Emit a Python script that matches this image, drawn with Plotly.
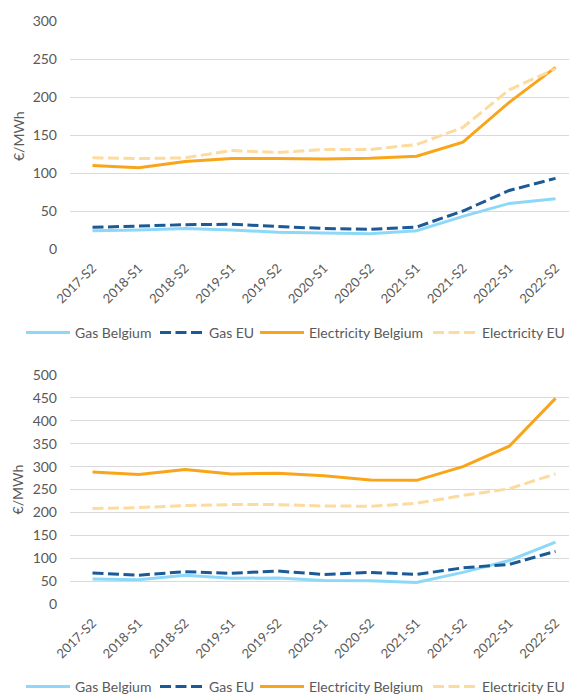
import plotly.graph_objects as go
from plotly.subplots import make_subplots

categories = ["2017-S2", "2018-S1", "2018-S2", "2019-S1", "2019-S2", "2020-S1",
              "2020-S2", "2021-S1", "2021-S2", "2022-S1", "2022-S2"]

# Top chart
top_gas_be = [24, 25, 27, 25, 22, 21, 20, 24, 43, 60, 66]
top_gas_eu = [28.5, 30, 32, 32.5, 30, 27, 26, 29, 50, 77, 93]
top_el_be = [110, 107, 115, 119, 119, 118.5, 119.5, 122, 140.5, 193, 239]
top_el_eu = [120, 119, 120, 129.5, 127, 131, 131, 137.5, 160, 209.5, 237]

# Bottom chart
bot_gas_be = [54.5, 53, 62.5, 56, 57, 51.5, 51, 47, 69, 95, 135]
bot_gas_eu = [67.5, 63, 70.5, 67, 72, 64.5, 69, 64.5, 79, 86.5, 115]
bot_el_be = [288, 283, 293.5, 284, 285.5, 280, 271, 270, 300, 344.5, 449]
bot_el_eu = [208.5, 210.5, 215, 217, 217, 214, 213.5, 220, 237, 251.5, 284]

series_names = ["Gas Belgium", "Gas EU", "Electricity Belgium", "Electricity EU"]
colors = ["#8DD8F8", "#1B5A96", "#F9A51A", "#FDDA9D"]
dashes = ["solid", "11px,4.5px", "solid", "11px,4.5px"]

FONT = "Lato"
GREY = "#595959"

fig = make_subplots(rows=2, cols=1, vertical_spacing=0.2)

top = [top_gas_be, top_gas_eu, top_el_be, top_el_eu]
bot = [bot_gas_be, bot_gas_eu, bot_el_be, bot_el_eu]

for i, name in enumerate(series_names):
    fig.add_trace(go.Scatter(x=categories, y=top[i], name=name, mode="lines",
                             line=dict(color=colors[i], width=3, dash=dashes[i]),
                             legend=f"legend{i+2}"), row=1, col=1)
for i, name in enumerate(series_names):
    fig.add_trace(go.Scatter(x=categories, y=bot[i], name=name, mode="lines",
                             line=dict(color=colors[i], width=3, dash=dashes[i]),
                             legend=f"legend{i+6}"), row=2, col=1)

xax = dict(type="category", range=[-0.486, 10.464], tickangle=-45, showgrid=False,
           showline=False, zeroline=False, ticks="", automargin=False,
           ticklabelstandoff=8,
           tickfont=dict(family=FONT, size=13, color=GREY))
yax = dict(showgrid=True, gridcolor="#D9D9D9", gridwidth=1, zeroline=False,
           showline=False, ticks="", automargin=False, ticklabelstandoff=12,
           tickfont=dict(family=FONT, size=14, color=GREY))

# legend left edges (figure pixels) -> container fractions
W, H = 569, 689
legend_px = [13, 147, 247, 420]
legends = {}
for k in range(8):
    key = f"legend{k+2}"
    legends[key] = dict(orientation="h", xref="container", yref="container",
                        x=legend_px[k % 4] / W, xanchor="left",
                        y=1 - (325 if k < 4 else 679) / H, yanchor="middle",
                        font=dict(family=FONT, size=14, color=GREY), itemwidth=44,
                        bgcolor="rgba(0,0,0,0)")

fig.update_layout(
    width=W, height=H,
    margin=dict(l=62, r=0, t=13, b=93, autoexpand=False),
    paper_bgcolor="white", plot_bgcolor="white",
    font=dict(family=FONT, color=GREY),
    showlegend=True,
    xaxis=dict(xax, domain=[0, 1]),
    xaxis2=dict(xax, domain=[0, 1]),
    yaxis=dict(yax, domain=[0.6089, 1.0], range=[0, 300], dtick=50),
    yaxis2=dict(yax, domain=[0.0, 0.3928], range=[0, 500], dtick=50),
    annotations=[
        dict(text="€/MWh", xref="paper", yref="paper", x=-0.1026, y=0.8027,
             xanchor="center", yanchor="middle", textangle=-90, showarrow=False,
             font=dict(family=FONT, size=14, color=GREY)),
        dict(text="€/MWh", xref="paper", yref="paper", x=-0.1026, y=0.1964,
             xanchor="center", yanchor="middle", textangle=-90, showarrow=False,
             font=dict(family=FONT, size=14, color=GREY)),
    ],
    **legends,
)

fig.write_html("out.html")
